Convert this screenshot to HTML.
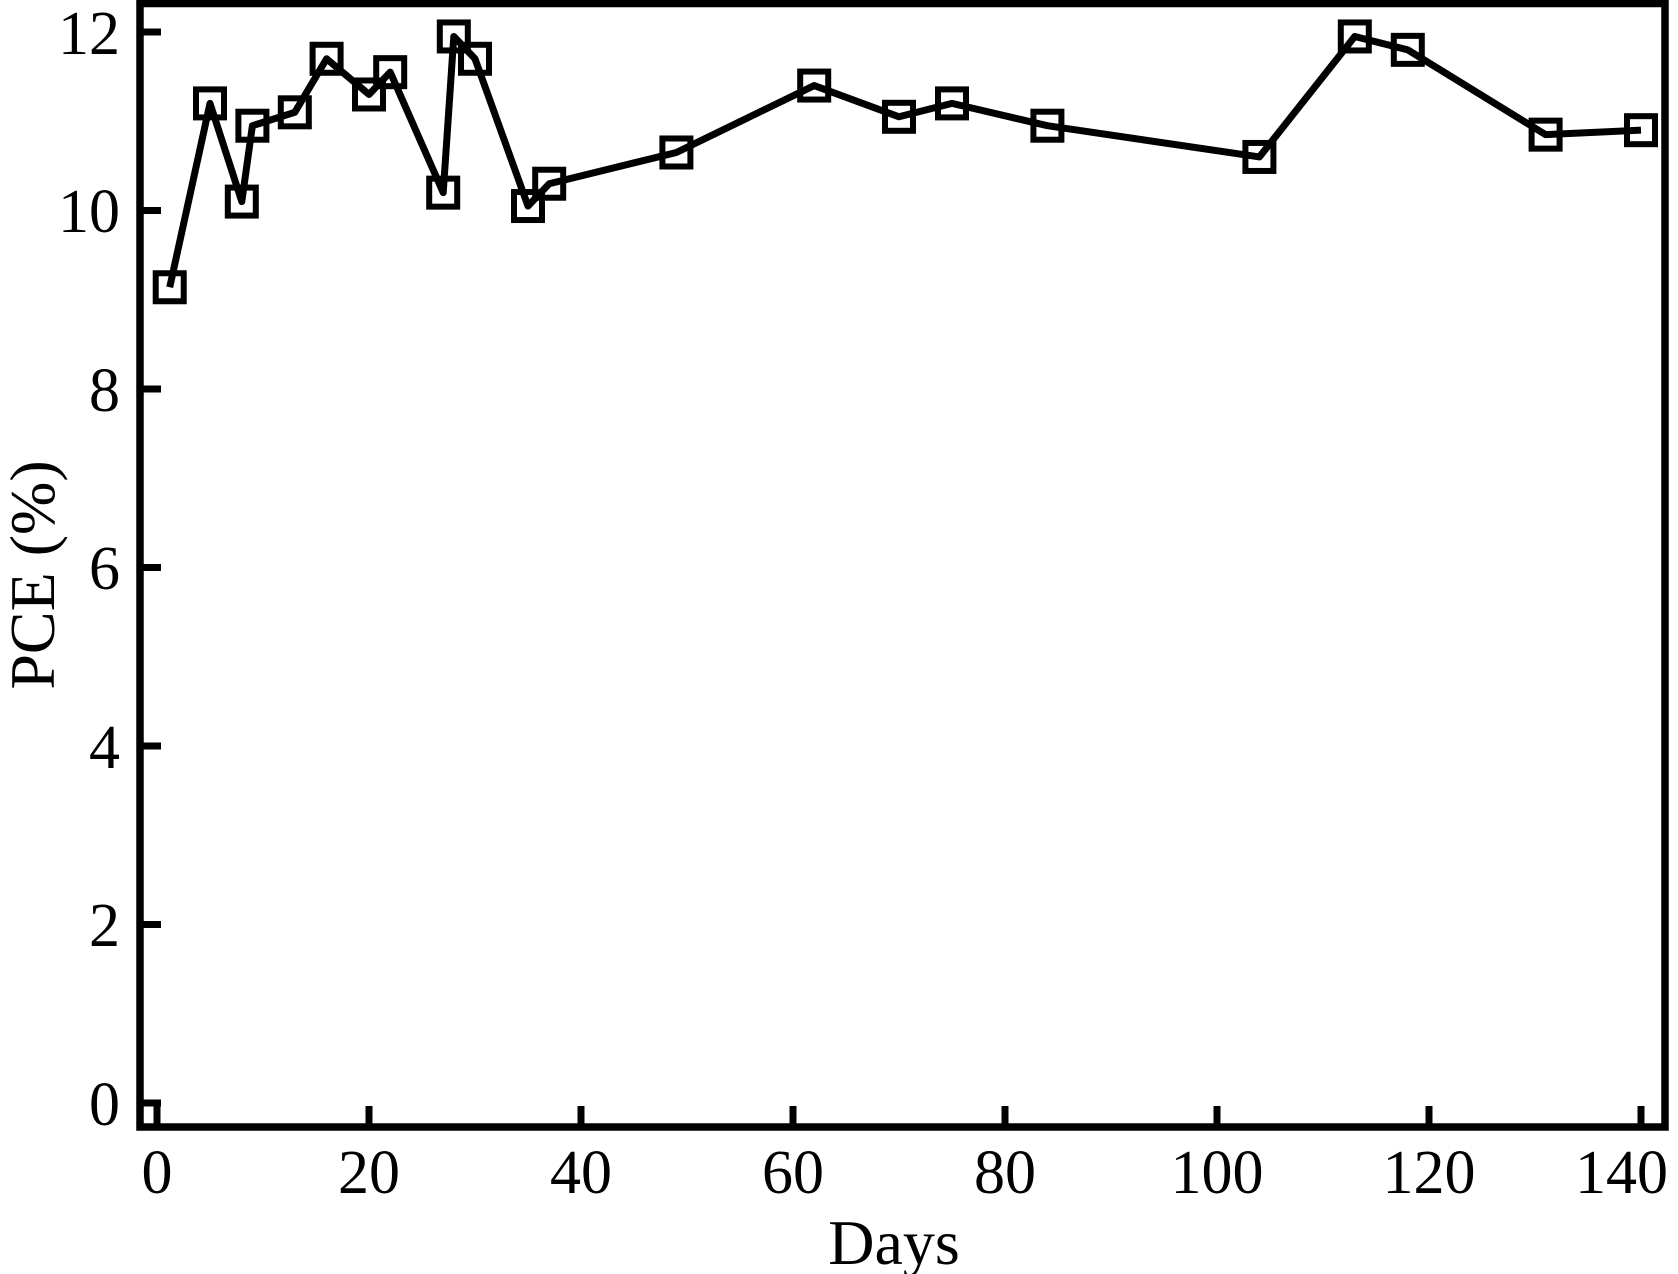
<!DOCTYPE html>
<html><head><style>
html,body{margin:0;padding:0;background:#fff;}
svg{display:block;}
text{font-family:"Liberation Serif",serif;fill:#000;}
</style></head><body>
<svg width="1678" height="1274" viewBox="0 0 1678 1274" xmlns="http://www.w3.org/2000/svg">
<rect x="140" y="3.5" width="1525" height="1123.5" fill="none" stroke="#000" stroke-width="7.5"/>
<g stroke="#000" stroke-width="7">
<line x1="140" y1="1103" x2="161" y2="1103"/>
<line x1="140" y1="924.5" x2="161" y2="924.5"/>
<line x1="140" y1="746" x2="161" y2="746"/>
<line x1="140" y1="567.5" x2="161" y2="567.5"/>
<line x1="140" y1="389" x2="161" y2="389"/>
<line x1="140" y1="210.5" x2="161" y2="210.5"/>
<line x1="140" y1="32" x2="161" y2="32"/>
<line x1="157" y1="1127" x2="157" y2="1106"/>
<line x1="369" y1="1127" x2="369" y2="1106"/>
<line x1="581" y1="1127" x2="581" y2="1106"/>
<line x1="793" y1="1127" x2="793" y2="1106"/>
<line x1="1005" y1="1127" x2="1005" y2="1106"/>
<line x1="1217" y1="1127" x2="1217" y2="1106"/>
<line x1="1429" y1="1127" x2="1429" y2="1106"/>
<line x1="1641" y1="1127" x2="1641" y2="1106"/>
</g>
<g font-size="62" text-anchor="end">
<text x="120" y="1125">0</text>
<text x="120" y="946">2</text>
<text x="120" y="768">4</text>
<text x="120" y="589">6</text>
<text x="120" y="411">8</text>
<text x="120" y="232">10</text>
<text x="120" y="54">12</text>
</g>
<g font-size="62" text-anchor="middle">
<text x="157" y="1193">0</text>
<text x="369" y="1193">20</text>
<text x="581" y="1193">40</text>
<text x="793" y="1193">60</text>
<text x="1005" y="1193">80</text>
<text x="1217" y="1193">100</text>
<text x="1429" y="1193">120</text>
<text x="1668" y="1193" text-anchor="end">140</text>
<text x="894" y="1264" font-size="64">Days</text>
<text transform="translate(54,575) rotate(-90)" font-size="64">PCE (%)</text>
</g>
<g id="d"></g>
</svg>
<script>
var data=[[1.2,9.14],[5,11.2],[8,10.1],[9,10.95],[13,11.1],[16,11.7],[20,11.3],[22,11.55],[27,10.2],[28,11.95],[30,11.7],[35,10.05],[37,10.3],[49,10.65],[62,11.4],[70,11.05],[75,11.2],[84,10.95],[104,10.6],[113,11.95],[118,11.8],[131,10.85],[140,10.9]];
var g=document.getElementById('d'),ns='http://www.w3.org/2000/svg',pts=[];
data.forEach(function(p){pts.push([157+p[0]*10.6,1103-p[1]*89.25]);});
var pl=document.createElementNS(ns,'polyline');
pl.setAttribute('points',pts.map(function(p){return p.join(',')}).join(' '));
pl.setAttribute('fill','none');pl.setAttribute('stroke','#000');pl.setAttribute('stroke-width','7');pl.setAttribute('stroke-linejoin','round');
g.appendChild(pl);
pts.forEach(function(p){var r=document.createElementNS(ns,'rect');
r.setAttribute('x',p[0]-14);r.setAttribute('y',p[1]-14);r.setAttribute('width',28);r.setAttribute('height',28);
r.setAttribute('fill','none');r.setAttribute('stroke','#000');r.setAttribute('stroke-width','6');g.appendChild(r);});
</script>
</body></html>
